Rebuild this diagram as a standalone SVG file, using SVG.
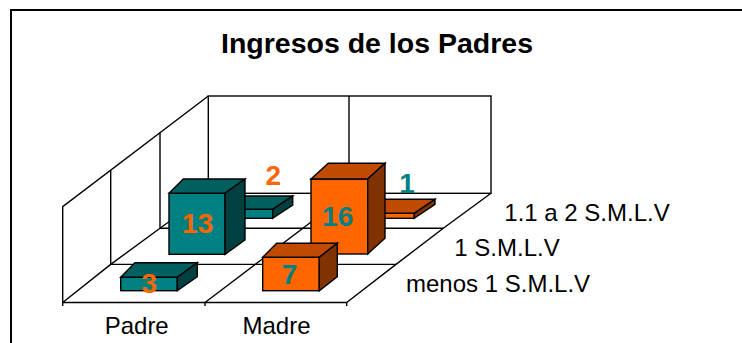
<svg xmlns="http://www.w3.org/2000/svg" width="742" height="343" viewBox="0 0 742 343">
<style>
.grid{fill:none;stroke:#000;stroke-width:1.4}
.edge{stroke:#000;stroke-width:1.4;stroke-linejoin:miter}
.tf{fill:#008080}.tt{fill:#005F5F}.ts{fill:#004040}
.of{fill:#FF6600}.ot{fill:#BF4A00}.os{fill:#803300}
.lbl{font-family:"Liberation Sans",Arial,sans-serif;font-size:24px;fill:#000}
.num{font-family:"Liberation Sans",Arial,sans-serif;font-size:28px;font-weight:bold;text-anchor:middle}
.no{fill:#FF6600}.nt{fill:#008080}
</style>
<rect x="0" y="0" width="742" height="343" fill="#fff"/>
<path d="M11 345 V10 H745" fill="none" stroke="#000" stroke-width="2"/>
<text x="377" y="53.3" text-anchor="middle" font-family="'Liberation Sans',Arial,sans-serif" font-size="28.5" font-weight="bold">Ingresos de los Padres</text>
<g id="axes">
<rect class="grid" x="208.3" y="96" width="282.7" height="97.3"/>
<line class="grid" x1="349" y1="96" x2="349" y2="193.3"/>
<polyline class="grid" points="62.7,306 62.7,206.7 208.3,96"/>
<line class="grid" x1="110.7" y1="170.2" x2="110.7" y2="264.4"/>
<line class="grid" x1="160" y1="132.7" x2="160" y2="228.3"/>
<polyline class="grid" points="62.7,302.5 110.7,264.4 160,228.3 208.3,193.3"/>
<line class="grid" x1="110.7" y1="264.4" x2="396" y2="264.4"/>
<line class="grid" x1="160" y1="228.3" x2="443.3" y2="228.3"/>
<polyline class="grid" points="346.7,302.5 396,264.4 443.3,228.3 491,193.3"/>
<line class="grid" x1="205" y1="302.5" x2="349" y2="193.3"/>
<line class="grid" x1="62.7" y1="302.5" x2="346.7" y2="302.5"/>
<line class="grid" x1="205" y1="302.5" x2="205" y2="306"/>
<line class="grid" x1="346.7" y1="302.5" x2="346.7" y2="306"/>
</g>
<g id="bar-padre-1-1a2">
<rect class="tf edge" x="216" y="209.3" width="56.7" height="9"/>
<polygon class="tt edge" points="216,209.3 230.3,196 292.7,196 272.7,209.3"/>
<polygon class="ts edge" points="272.7,209.3 292.7,196 292.7,205 272.7,218.3"/>
<text class="num no" x="273.3" y="185">2</text>
</g>
<g id="bar-madre-1-1a2">
<rect class="of edge" x="358" y="213.3" width="56.3" height="5"/>
<polygon class="ot edge" points="358,213.3 372,199.3 435,199.3 414.3,213.3"/>
<polygon class="os edge" points="414.3,213.3 435,199.3 435,204.3 414.3,218.3"/>
<text class="num nt" x="407" y="192.7">1</text>
</g>
<g id="bar-padre-1">
<rect class="tf edge" x="169" y="193.3" width="56" height="61"/>
<polygon class="tt edge" points="169,193.3 183.3,179 245,179 225,193.3"/>
<polygon class="ts edge" points="225,193.3 245,179 245,240 225,254.3"/>
<text class="num no" x="197.7" y="232.7">13</text>
</g>
<g id="bar-madre-1">
<rect class="of edge" x="311" y="179" width="56.7" height="75"/>
<polygon class="ot edge" points="311,179 328.3,163.3 385,163.3 367.7,179"/>
<polygon class="os edge" points="367.7,179 385,163.3 385,238.3 367.7,254"/>
<text class="num nt" x="337.7" y="226">16</text>
</g>
<g id="bar-padre-menos1">
<rect class="tf edge" x="120.7" y="277.3" width="56.6" height="13.4"/>
<polygon class="tt edge" points="120.7,277.3 135,262.7 197.3,262.7 177.3,277.3"/>
<polygon class="ts edge" points="177.3,277.3 197.3,262.7 197.3,276.7 177.3,290.7"/>
<text class="num no" x="149.2" y="293.3">3</text>
</g>
<g id="bar-madre-menos1">
<rect class="of edge" x="262.7" y="257.3" width="56.6" height="33.4"/>
<polygon class="ot edge" points="262.7,257.3 276.7,243.3 337.3,243.3 319.3,257.3"/>
<polygon class="os edge" points="319.3,257.3 337.3,243.3 337.3,276.7 319.3,290.7"/>
<text class="num nt" x="289.5" y="284">7</text>
</g>
<g id="labels">
<text class="lbl" x="136.7" y="334.3" text-anchor="middle">Padre</text>
<text class="lbl" x="276.5" y="334.3" text-anchor="middle">Madre</text>
<text class="lbl" x="504.3" y="220.7">1.1 a 2 S.M.L.V</text>
<text class="lbl" x="454.3" y="256">1 S.M.L.V</text>
<text class="lbl" x="406" y="291.7">menos 1 S.M.L.V</text>
</g>
</svg>
